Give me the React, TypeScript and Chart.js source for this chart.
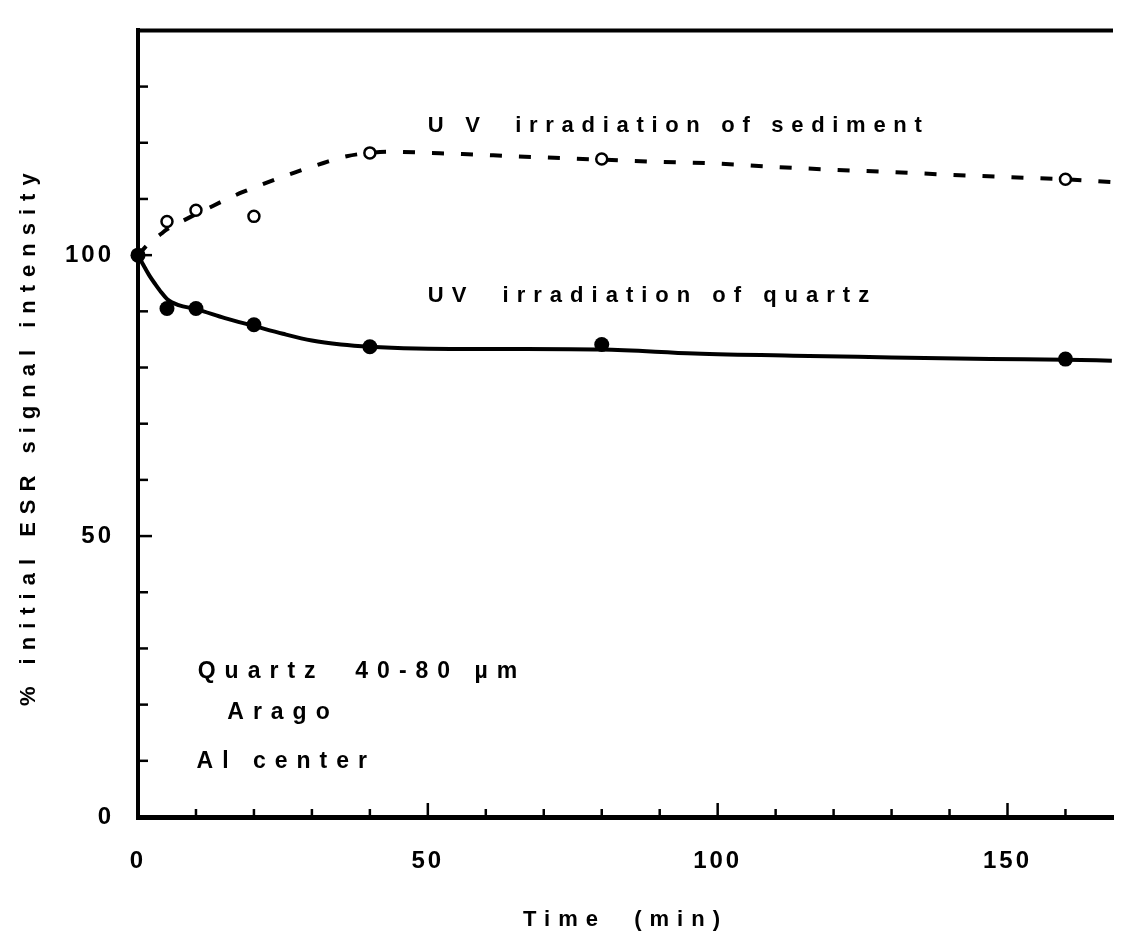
import React, { useEffect, useRef } from "react";
import { Chart, registerables } from "chart.js";

Chart.register(...registerables);

// ---- data ----
const pointTimes = [0, 5, 10, 20, 40, 80, 160];
const sedimentPoints = [100, 106.0, 108.0, 106.9, 118.2, 117.1, 113.5];
const quartzPoints = [100, 90.5, 90.5, 87.6, 83.7, 84.1, 81.5];

const sedimentCurveTimes = [0, 2, 4, 5, 7, 10, 12, 15, 18, 22, 27, 32, 36, 40, 44, 50, 56, 65, 80, 90, 100, 110, 120, 130, 140, 150, 160, 168];
const sedimentCurveValues = [100, 102.2, 103.8, 104.6, 105.7, 107.3, 108.3, 109.8, 111.2, 112.8, 114.7, 116.4, 117.6, 118.2, 118.4, 118.2, 118.0, 117.6, 117.0, 116.6, 116.3, 115.7, 115.2, 114.8, 114.3, 113.9, 113.5, 113.0];

const quartzCurveTimes = [0, 1, 2, 3, 4, 5, 7, 10, 15, 20, 25, 30, 35, 40, 48, 62, 80, 96, 113, 130, 147, 160, 168];
const quartzCurveValues = [100, 98.1, 96.3, 94.8, 93.4, 92.2, 91.1, 90.4, 88.8, 87.4, 86.0, 84.8, 84.1, 83.7, 83.4, 83.3, 83.2, 82.5, 82.1, 81.8, 81.5, 81.4, 81.2];

const xMin = 0;
const xMax = 168.2;
const xStep = 10;
const xLabelEvery = 50;
const yMin = 0;
const yMax = 140;
const yStep = 10;
const yLabelEvery = 50;

const xTitle = "Time  (min)";
const yTitle = "% initial ESR signal intensity";

const annotationTexts = [
  "U V  irradiation of sediment",
  "UV  irradiation of quartz",
  "Quartz  40-80 \u00b5m",
  "Arago",
  "Al center",
];
// anchor positions (data coordinates) for the annotation texts
const annotationAnchors = [
  { x: 50, y: 122, size: 22, spacing: 7.7 },
  { x: 50, y: 91.6, size: 22, spacing: 8 },
  { x: 10.3, y: 24.8, size: 23, spacing: 9 },
  { x: 15.4, y: 17.5, size: 23, spacing: 9 },
  { x: 10.1, y: 8.7, size: 23, spacing: 9 },
];

const FONT = '"Liberation Sans", Arial, sans-serif';

const toXY = (xs: number[], ys: number[]) => xs.map((x, i) => ({ x, y: ys[i] }));
const isMult = (v: number, m: number) => Math.abs(v / m - Math.round(v / m)) < 1e-6;

const decorPlugin = {
  id: "decor",
  beforeDraw(chart: any) {
    const ctx = chart.ctx;
    ctx.save();
    ctx.fillStyle = "#ffffff";
    ctx.fillRect(0, 0, chart.width, chart.height);
    ctx.restore();
    ctx.letterSpacing = "8px"; // axis titles
  },
  afterDatasetsDraw(chart: any) {
    chart.ctx.letterSpacing = "3px"; // tick labels
  },
  afterDraw(chart: any) {
    const ctx = chart.ctx;
    const xs = chart.scales.x;
    const ys = chart.scales.y;
    const area = chart.chartArea;
    ctx.save();
    ctx.strokeStyle = "#000";
    ctx.lineCap = "butt";
    // inward tick marks
    ctx.lineWidth = 2.5;
    xs.ticks.forEach((t: any) => {
      if (t.value === 0) return;
      const px = xs.getPixelForValue(t.value);
      const len = isMult(t.value, xLabelEvery) ? 14 : 8;
      ctx.beginPath();
      ctx.moveTo(px, area.bottom);
      ctx.lineTo(px, area.bottom - len);
      ctx.stroke();
    });
    ys.ticks.forEach((t: any) => {
      if (t.value === 0) return;
      const py = ys.getPixelForValue(t.value);
      const len = isMult(t.value, yLabelEvery) ? 14 : 10;
      ctx.beginPath();
      ctx.moveTo(area.left, py);
      ctx.lineTo(area.left + len, py);
      ctx.stroke();
    });
    // top frame line
    ctx.lineWidth = 4;
    ctx.beginPath();
    ctx.moveTo(area.left - 2, area.top);
    ctx.lineTo(area.right, area.top);
    ctx.stroke();
    // annotations
    ctx.fillStyle = "#000";
    ctx.textAlign = "left";
    ctx.textBaseline = "alphabetic";
    annotationTexts.forEach((txt, i) => {
      const a = annotationAnchors[i];
      ctx.font = `bold ${a.size}px ${FONT}`;
      ctx.letterSpacing = `${a.spacing}px`;
      ctx.fillText(txt, xs.getPixelForValue(a.x), ys.getPixelForValue(a.y));
    });
    // y axis title (rotated), centred a little below the plot middle as in the reference
    ctx.font = `bold 22px ${FONT}`;
    ctx.letterSpacing = "8px";
    ctx.textAlign = "center";
    ctx.textBaseline = "middle";
    ctx.translate(29, (area.top + area.bottom) / 2 + 16);
    ctx.rotate(-Math.PI / 2);
    ctx.fillText(yTitle, 4, 0);
    ctx.restore();
    ctx.letterSpacing = "0px";
  },
};

export default function App() {
  const ref = useRef<HTMLCanvasElement | null>(null);

  useEffect(() => {
    if (!ref.current) return;
    const tickFont = { family: FONT, size: 24, weight: "bold" as const };
    const titleFont = { family: FONT, size: 22, weight: "bold" as const };
    const chart = new Chart(ref.current, {
      type: "scatter",
      data: {
        datasets: [
          {
            label: "UV irradiation of quartz",
            data: toXY(pointTimes, quartzPoints),
            showLine: false,
            pointRadius: 7.5,
            pointBackgroundColor: "#000",
            pointBorderColor: "#000",
            pointBorderWidth: 0,
            clip: false,
            order: 0,
          },
          {
            label: "UV irradiation of sediment",
            data: toXY(pointTimes, sedimentPoints),
            showLine: false,
            pointRadius: 5.5,
            pointBackgroundColor: "#fff",
            pointBorderColor: "#000",
            pointBorderWidth: 2.5,
            clip: false,
            order: 1,
          },
          {
            label: "quartz fit",
            data: toXY(quartzCurveTimes, quartzCurveValues),
            showLine: true,
            pointRadius: 0,
            borderColor: "#000",
            borderWidth: 4,
            cubicInterpolationMode: "monotone",
            clip: false,
            order: 2,
          },
          {
            label: "sediment fit",
            data: toXY(sedimentCurveTimes, sedimentCurveValues),
            showLine: true,
            pointRadius: 0,
            borderColor: "#000",
            borderWidth: 4,
            borderDash: [12, 17],
            cubicInterpolationMode: "monotone",
            clip: false,
            order: 3,
          },
        ],
      },
      options: {
        responsive: false,
        animation: false,
        layout: { padding: { top: 15, left: 0, right: 0, bottom: 0 } },
        plugins: { legend: { display: false }, tooltip: { enabled: false } },
        scales: {
          x: {
            type: "linear",
            position: "bottom",
            min: xMin,
            max: xMax,
            afterFit: (s: any) => {
              s.height = 117;
            },
            grid: { display: false },
            border: { display: true, color: "#000", width: 5 },
            ticks: {
              stepSize: xStep,
              autoSkip: false,
              maxRotation: 0,
              includeBounds: false,
              padding: 22,
              z: 1,
              color: "#000",
              font: tickFont,
              callback: (v: any) => (isMult(Number(v), xLabelEvery) ? String(Math.round(Number(v))) : ""),
            },
            title: {
              display: true,
              text: xTitle,
              color: "#000",
              font: titleFont,
              padding: { top: 0, bottom: 1 },
            },
          },
          y: {
            type: "linear",
            position: "left",
            min: yMin,
            max: yMax,
            afterFit: (s: any) => {
              s.width = 138;
            },
            grid: { display: false },
            border: { display: true, color: "#000", width: 4 },
            ticks: {
              stepSize: yStep,
              autoSkip: false,
              includeBounds: false,
              padding: 16,
              z: 1,
              color: "#000",
              font: tickFont,
              callback: (v: any) => (isMult(Number(v), yLabelEvery) ? String(Math.round(Number(v))) : ""),
            },
            title: { display: false, text: yTitle },
          },
        },
      },
      plugins: [decorPlugin],
    } as any);
    return () => chart.destroy();
  }, []);

  return (
    <div style={{ position: "fixed", left: 0, top: 0, width: 1121, height: 934, background: "#fff" }}>
      <canvas ref={ref} width={1121} height={934} style={{ display: "block" }} />
    </div>
  );
}
